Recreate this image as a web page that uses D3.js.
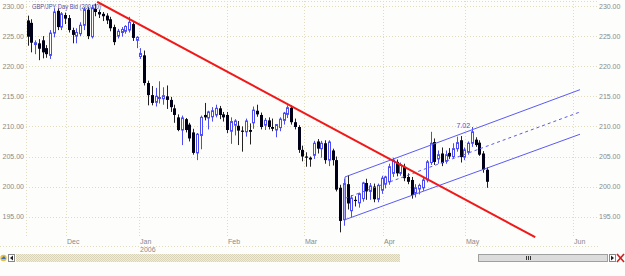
<!DOCTYPE html>
<html>
<head>
<meta charset="utf-8">
<script src="https://cdn.jsdelivr.net/npm/d3@7"></script>
<style>
  body { margin: 0; background: #fff; }
  svg { display: block; font-family: "Liberation Sans", Arial, sans-serif; }
</style>
</head>
<body>
<svg id="chart" width="625" height="276"></svg>
<script>
// GBP/JPY daily candles (slot index = trading bar)
const opens = [
  227.6, 227.2, 223.6, 223.8, 224.3, 223.0, 221.8, 225.5, 229.2, 226.5,
  228.5, 228.0, 226.0, 225.0, 225.4, 226.8, 229.4, 224.9, 229.5, 229.0,
  228.7, 228.4, 227.8, 226.5, 225.0, 225.6, 225.8, 226.0, 227.0, 224.3,
  221.6, 221.8, 217.2, 215.2, 214.0, 214.7, 214.6, 215.0, 214.4, 213.0,
  211.5, 209.4, 211.2, 210.3, 209.0, 205.6, 208.5, 211.9, 211.4, 211.6,
  211.9, 213.0, 212.0, 211.9, 209.2, 210.2, 210.1, 209.3, 209.1, 209.4,
  210.6, 212.6, 211.9, 210.2, 211.0, 209.9, 209.4, 209.8, 211.0, 212.0,
  213.1, 210.7, 209.9, 206.1, 205.0, 204.8, 205.2, 207.5, 206.3, 207.2,
  204.4, 206.0, 204.4, 199.8, 194.5, 200.4, 196.0, 197.8, 197.3, 198.0,
  200.6, 199.2, 200.0, 197.9, 199.4, 200.4, 200.8, 202.2, 204.1, 202.2,
  203.3, 201.6, 201.1, 198.9, 199.6, 199.8, 201.1, 204.0, 207.4, 204.6,
  205.5, 204.2, 205.6, 205.0, 206.3, 207.7, 204.9, 205.7, 207.2, 207.8,
  207.3, 205.5, 202.8
]
const highs = [
  228.4, 227.8, 224.3, 224.5, 225.0, 223.5, 226.0, 229.6, 229.6, 229.0,
  228.9, 228.5, 226.4, 226.3, 227.3, 229.8, 229.8, 230.2, 230.4, 229.4,
  229.0, 228.8, 228.2, 226.9, 226.2, 226.5, 226.8, 228.2, 227.3, 225.0,
  223.0, 222.6, 217.6, 216.7, 216.4, 217.5, 216.5, 216.8, 214.9, 213.6,
  212.0, 211.8, 211.4, 210.6, 209.6, 208.9, 211.8, 213.9, 212.6, 213.2,
  213.6, 213.4, 212.4, 212.4, 211.5, 211.2, 210.9, 210.0, 211.3, 210.5,
  213.3, 213.6, 212.3, 211.4, 211.5, 211.3, 210.4, 211.5, 212.4, 213.5,
  213.5, 211.3, 210.2, 206.8, 205.7, 205.0, 207.6, 207.9, 207.6, 207.7,
  207.7, 206.3, 205.0, 200.3, 201.3, 201.9, 198.6, 198.4, 199.0, 200.8,
  201.3, 200.6, 200.5, 200.5, 201.8, 201.8, 203.8, 204.8, 204.5, 204.0,
  203.8, 202.2, 201.6, 200.4, 200.5, 201.5, 204.4, 209.1, 208.0, 206.0,
  206.5, 206.0, 206.4, 207.2, 208.3, 208.4, 206.5, 207.5, 209.9, 208.2,
  207.7, 205.9, 203.2
]
const lows = [
  223.4, 222.3, 222.0, 221.0, 221.3, 221.4, 221.2, 224.8, 226.0, 226.0,
  227.0, 225.6, 223.8, 223.8, 225.0, 226.0, 224.5, 224.6, 228.3, 228.0,
  227.5, 227.0, 225.8, 223.5, 224.6, 224.9, 225.4, 225.6, 224.2, 223.0,
  221.2, 216.8, 213.5, 213.5, 213.3, 213.8, 213.6, 212.9, 212.4, 210.6,
  209.2, 206.9, 209.0, 207.5, 205.3, 204.4, 206.2, 211.0, 209.5, 210.8,
  211.5, 211.2, 210.8, 208.9, 207.1, 208.5, 206.9, 205.8, 208.3, 207.0,
  209.6, 211.6, 209.5, 209.4, 209.5, 209.2, 208.2, 209.2, 210.3, 211.4,
  210.3, 209.5, 205.6, 204.2, 203.3, 203.3, 204.6, 205.5, 204.8, 203.8,
  203.4, 203.5, 199.2, 192.4, 193.5, 196.2, 194.9, 196.7, 196.5, 197.5,
  197.8, 197.8, 197.4, 197.4, 198.8, 199.7, 200.3, 201.6, 201.7, 201.8,
  200.9, 200.4, 198.0, 198.2, 198.7, 199.3, 200.7, 203.6, 203.6, 203.8,
  203.4, 203.8, 204.6, 204.6, 205.8, 204.0, 204.4, 205.3, 206.6, 206.6,
  205.1, 202.3, 199.8
]
const closes = [
  224.9, 223.9, 223.9, 222.9, 222.3, 222.0, 225.5, 229.0, 226.5, 228.7,
  227.9, 226.0, 225.2, 225.6, 226.8, 229.4, 225.0, 229.7, 229.0, 228.6,
  228.3, 227.6, 226.3, 224.0, 225.8, 226.1, 226.6, 227.3, 224.7, 224.8,
  222.1, 217.2, 215.2, 213.9, 215.0, 214.8, 215.1, 214.4, 213.2, 211.9,
  209.4, 211.4, 209.4, 208.0, 205.6, 208.7, 211.5, 211.5, 212.4, 212.6,
  213.0, 211.9, 211.5, 209.4, 210.8, 210.9, 209.3, 209.1, 210.9, 209.1,
  212.7, 212.0, 209.9, 211.0, 209.9, 209.6, 210.3, 211.2, 212.2, 213.1,
  210.7, 209.9, 206.1, 205.0, 204.8, 204.5, 207.2, 206.3, 207.2, 204.4,
  207.4, 204.4, 199.5, 194.3, 200.5, 197.2, 198.1, 197.6, 198.8, 200.6,
  199.2, 200.1, 197.9, 200.2, 201.4, 201.6, 203.3, 204.4, 202.2, 203.6,
  201.4, 200.8, 198.6, 199.8, 200.2, 201.1, 204.1, 207.2, 204.1, 205.3,
  203.9, 205.3, 205.0, 206.3, 207.3, 204.9, 206.1, 207.2, 209.1, 206.9,
  205.3, 202.8, 200.8
]

const priceTicks = [195, 200, 205, 210, 215, 220, 225, 230]
const monthLabels = ["Dec", "Jan", "Feb", "Mar", "Apr", "May", "Jun"]
const monthSlots = [10.2, 29.6, 53.0, 73.4, 94.4, 116.2, 144.9]
const yearLabel = { month: "Jan", text: "2006" }

// drawn trend lines: [slot, price] end points
const redLine = [[18.5, 230.7], [134.8, 191.6]]
const channelUpper = [[84.3, 201.6], [146.7, 216.1]]
const channelLower = [[84.3, 194.5], [146.7, 208.7]]
const channelLabel = { slot: 115.7, price: 209.7, text: "7.02" }

const title = "GBP/JPY Day Bid (200,60)"

var plot = { left: 26, right: 597, top: 1, bottom: 238 }

var svg = d3.select("#chart")

var x = d3.scaleLinear().domain([0, opens.length - 1]).range([27.5, 487])
var y = d3.scaleLinear().domain([195, 230]).range([216.7, 6])

const gridColor = "#e2dcbc"
const upColor = "#4c4cf2"
const downColor = "#000018"

svg.append("rect").attr("width", 625).attr("height", 276).attr("fill", "#fdfdfb")

// grid
var grid = svg.append("g").attr("stroke", gridColor).attr("stroke-dasharray", "1,2")
grid.selectAll(".hgrid")
    .data(priceTicks)
    .enter().append("line")
    .attr("x1", plot.left).attr("x2", plot.right)
    .attr("y1", d => Math.round(y(d)) + 0.5).attr("y2", d => Math.round(y(d)) + 0.5)
grid.selectAll(".vgrid")
    .data(monthSlots)
    .enter().append("line")
    .attr("x1", d => Math.round(x(d)) + 0.5).attr("x2", d => Math.round(x(d)) + 0.5)
    .attr("y1", plot.top).attr("y2", plot.bottom)
grid.append("line").attr("x1", plot.left + 0.5).attr("x2", plot.left + 0.5)
    .attr("y1", plot.top).attr("y2", plot.bottom)
grid.append("line").attr("x1", plot.left).attr("x2", plot.right)
    .attr("y1", plot.top + 0.5).attr("y2", plot.top + 0.5)
grid.append("line").attr("x1", 0).attr("x2", 600)
    .attr("y1", 246.5).attr("y2", 246.5)

// price axes, both sides
var fmt = d3.format(".2f")
var leftAxis = svg.append("g").attr("transform", "translate(24,0)")
    .call(d3.axisLeft(y).tickValues(priceTicks).tickFormat(fmt).tickSize(0).tickPadding(0))
var rightAxis = svg.append("g").attr("transform", "translate(599,0)")
    .call(d3.axisRight(y).tickValues(priceTicks).tickFormat(fmt).tickSize(0).tickPadding(0))
svg.selectAll(".domain").remove()
svg.selectAll(".tick text")
    .attr("fill", "#8a8a8a")
    .style("font-size", "7px")
    .style("font-family", "Liberation Sans, Arial, sans-serif")

// month labels
svg.append("g").selectAll("text")
    .data(monthLabels)
    .enter().append("text")
    .attr("x", (d, i) => Math.round(x(monthSlots[i])) + 1)
    .attr("y", 244)
    .attr("fill", "#8a8a8a")
    .style("font-size", "7px")
    .text(d => d)
svg.append("text")
    .attr("x", Math.round(x(monthSlots[monthLabels.indexOf(yearLabel.month)])) + 1)
    .attr("y", 252)
    .attr("fill", "#8a8a8a")
    .style("font-size", "7px")
    .text(yearLabel.text)

// clip for the chart body
svg.append("clipPath").attr("id", "plotclip")
    .append("rect")
    .attr("x", plot.left).attr("y", plot.top)
    .attr("width", plot.right - plot.left).attr("height", plot.bottom - plot.top)
var body = svg.append("g").attr("clip-path", "url(#plotclip)")

// candles
var bars = opens.map((o, i) => ({ i: i, o: o, h: highs[i], l: lows[i], c: closes[i] }))
var candle = body.selectAll(".candle")
    .data(bars)
    .enter().append("g")
    .attr("class", "candle")

candle.append("line")
    .attr("x1", d => Math.round(x(d.i)) + 0.5)
    .attr("x2", d => Math.round(x(d.i)) + 0.5)
    .attr("y1", d => y(d.h))
    .attr("y2", d => y(d.l))
    .attr("stroke", d => d.c >= d.o ? upColor : "#222")
    .attr("stroke-width", 1)

candle.append("rect")
    .attr("x", d => d.c >= d.o ? Math.round(x(d.i)) - 0.5 : Math.round(x(d.i)) - 1)
    .attr("width", d => d.c >= d.o ? 2 : 3)
    .attr("y", d => y(Math.max(d.o, d.c)))
    .attr("height", d => Math.max(1, y(Math.min(d.o, d.c)) - y(Math.max(d.o, d.c))))
    .attr("fill", d => d.c >= d.o ? "#fdfdfb" : downColor)
    .attr("stroke", d => d.c >= d.o ? upColor : "none")
    .attr("stroke-width", 1)

// trend channel
var line = d3.line().x(d => x(d[0])).y(d => y(d[1]))
var channelMid = channelUpper.map((p, k) => [p[0], (p[1] + channelLower[k][1]) / 2])

body.append("path").datum(channelUpper).attr("d", line)
    .attr("fill", "none").attr("stroke", "#5a5af5").attr("stroke-width", 1)
body.append("path").datum(channelLower).attr("d", line)
    .attr("fill", "none").attr("stroke", "#5a5af5").attr("stroke-width", 1)
body.append("path").datum(channelMid).attr("d", line)
    .attr("fill", "none").attr("stroke", "#5a5af5").attr("stroke-width", 1)
    .attr("stroke-dasharray", "3,3")
body.append("path").datum([channelUpper[0], channelLower[0]]).attr("d", line)
    .attr("fill", "none").attr("stroke", "#5a5af5").attr("stroke-width", 1)
body.append("text")
    .attr("x", x(channelLabel.slot)).attr("y", y(channelLabel.price))
    .attr("text-anchor", "middle")
    .attr("fill", "#4c4cf2")
    .style("font-size", "7px")
    .text(channelLabel.text)

// red resistance line
body.append("path").datum(redLine).attr("d", line)
    .attr("fill", "none").attr("stroke", "#f01818").attr("stroke-width", 2)

// title (squeezed to the width it has in the picture)
svg.append("text")
    .attr("x", 32).attr("y", 9)
    .attr("fill", "#5050a0")
    .attr("textLength", 69)
    .attr("lengthAdjust", "spacingAndGlyphs")
    .style("font-size", "7px")
    .text(title)

// scroll bar at the bottom
var defs = svg.append("defs")
var pat = defs.append("pattern").attr("id", "checker")
    .attr("width", 2).attr("height", 2).attr("patternUnits", "userSpaceOnUse")
pat.append("rect").attr("width", 2).attr("height", 2).attr("fill", "#f1eddb")
pat.append("rect").attr("width", 1).attr("height", 1).attr("fill", "#d9d4b8")
pat.append("rect").attr("x", 1).attr("y", 1).attr("width", 1).attr("height", 1).attr("fill", "#d9d4b8")

var sb = svg.append("g")
sb.append("rect").attr("x", 16).attr("y", 254).attr("width", 384).attr("height", 8).attr("fill", "url(#checker)")
sb.append("rect").attr("x", 478.5).attr("y", 254.5).attr("width", 129).attr("height", 7)
    .attr("fill", "#dcdcdc").attr("stroke", "#a0a0a0")
sb.selectAll(".grip").data([526, 528, 530]).enter().append("line")
    .attr("x1", d => d + 0.5).attr("x2", d => d + 0.5).attr("y1", 256).attr("y2", 260)
    .attr("stroke", "#333")
// left icon and arrow
sb.append("circle").attr("cx", 3.5).attr("cy", 258).attr("r", 3.2).attr("fill", "#e8c040")
sb.append("path").attr("d", "M1,259 L4,256 L6,259 Z").attr("fill", "#3a6fd0")
sb.append("rect").attr("x", 8.5).attr("y", 254.5).attr("width", 6).attr("height", 7)
    .attr("fill", "#fff").attr("stroke", "#888")
sb.append("path").attr("d", "M10,258 L13,255.5 L13,260.5 Z").attr("fill", "#222")
// right arrow and close
sb.append("rect").attr("x", 609.5).attr("y", 254.5).attr("width", 6).attr("height", 7)
    .attr("fill", "#fff").attr("stroke", "#888")
sb.append("path").attr("d", "M614,258 L611,255.5 L611,260.5 Z").attr("fill", "#222")
sb.append("path").attr("d", "M617,254 L624,262 M624,254 L617,262")
    .attr("stroke", "#d02020").attr("stroke-width", 1.6)
</script>
</body>
</html>
